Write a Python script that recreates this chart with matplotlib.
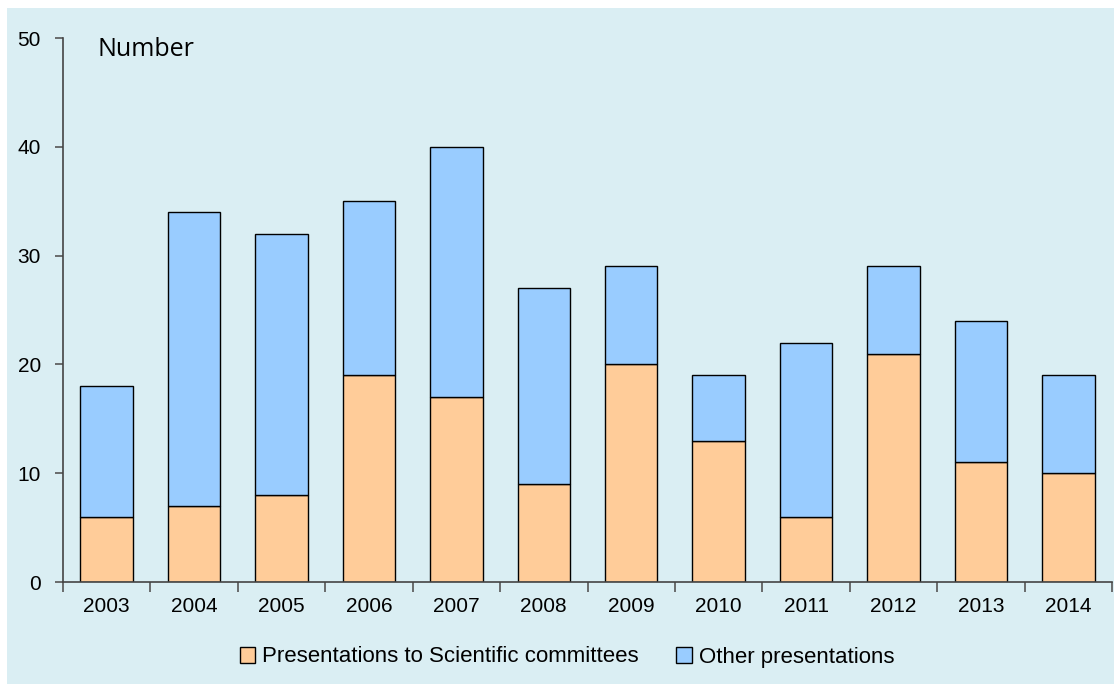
import matplotlib
matplotlib.use("Agg")
import matplotlib.pyplot as plt
from matplotlib.patches import Rectangle
import numpy as np

years = ['2003', '2004', '2005', '2006', '2007', '2008', '2009', '2010', '2011', '2012', '2013', '2014']
scientific = [6, 7, 8, 19, 17, 9, 20, 13, 6, 21, 11, 10]
other = [12, 27, 24, 16, 23, 18, 9, 6, 16, 8, 13, 9]

bg = '#DAEEF3'
W, H = 1114, 684

fig = plt.figure(figsize=(W / 100, H / 100), dpi=100, facecolor='white')
fig.patches.append(Rectangle((7 / W, 0), 1, 1 - 8 / H, transform=fig.transFigure,
                             facecolor=bg, edgecolor='none', zorder=-10))

ax = fig.add_axes([63 / W, 1 - 582 / H, (1112 - 63) / W, (582 - 38) / H])
ax.set_facecolor(bg)

x = np.arange(len(years))
ax.bar(x, scientific, width=0.6, color='#FFCC99', edgecolor='black', linewidth=1,
       label='Presentations to Scientific committees')
ax.bar(x, other, width=0.6, bottom=scientific, color='#99CCFF', edgecolor='black', linewidth=1,
       label='Other presentations')

ax.set_xlim(-0.5, len(years) - 0.5)
ax.set_ylim(0, 50)
ax.set_yticks(range(0, 51, 10))
# ticks between categories, labels centred under bars
ax.set_xticks(np.arange(-0.5, len(years), 1.0))
ax.set_xticklabels([])
ax.set_xticks(x, minor=True)
ax.set_xticklabels(years, minor=True, fontsize=15, family='Liberation Sans')
ax.tick_params(axis='x', which='minor', length=0, pad=11)
ax.tick_params(axis='x', which='major', length=7, color='#555555', width=1.2)
ax.tick_params(axis='y', length=6, color='#555555', width=1.2, labelsize=15, pad=10)
for lab in ax.get_yticklabels():
    lab.set_family('Liberation Sans')

for s in ['top', 'right']:
    ax.spines[s].set_visible(False)
for s in ['left', 'bottom']:
    ax.spines[s].set_color('#444444')
    ax.spines[s].set_linewidth(1.2)

fig.text(97 / W, 1 - 50 / H, 'Number', fontsize=18, family='Open Sans', va='center')

fig.legend(loc='center', bbox_to_anchor=(567 / W, 1 - 657 / H), ncol=2, frameon=False,
           prop={'family': 'Liberation Sans', 'size': 16}, handlelength=0.7, handleheight=0.7,
           handletextpad=0.3, columnspacing=1.7)

fig.savefig('out.png', dpi=100, facecolor='white')
